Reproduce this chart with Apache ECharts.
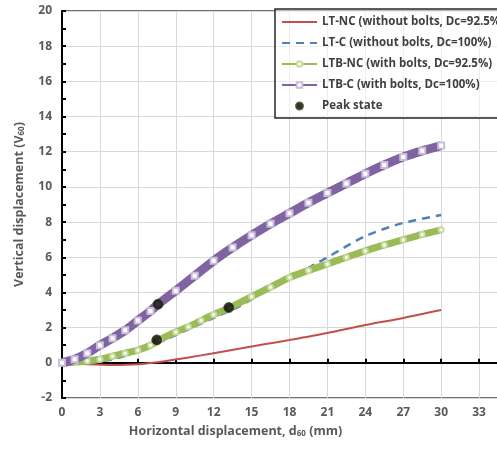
<!DOCTYPE html>
<html>
<head>
<meta charset="utf-8">
<script src="https://cdn.jsdelivr.net/npm/echarts@6/dist/echarts.min.js"></script>
<style>
  html, body { margin: 0; padding: 0; background: #fff; }
  #chart { width: 497px; height: 450px; }
</style>
</head>
<body>
<div id="chart"></div>
<script>
// LT-NC (without bolts, Dc=92.5%)
const ltncX = [0, 2, 4, 6, 8, 10, 12, 14, 16, 18, 21, 24, 27, 30];
const ltncY = [0, -0.08, -0.12, -0.08, 0.08, 0.3, 0.55, 0.8, 1.05, 1.3, 1.7, 2.15, 2.55, 3.0];
// LT-C (without bolts, Dc=100%)
const ltcX = [0, 2, 4, 5, 6, 7, 8, 10, 12, 14, 16, 18, 19, 20, 21, 24, 27, 30];
const ltcY = [0, 0.02, 0.2, 0.4, 0.65, 0.95, 1.25, 1.9, 2.55, 3.2, 4.05, 4.8, 5.2, 5.6, 6.0, 7.2, 7.95, 8.4];
// LTB-NC (with bolts, Dc=92.5%)
const ltbncX = [0, 1, 2, 3, 4, 5, 6, 7, 7.7, 9, 10, 11, 12, 13.3, 15, 16.5, 18, 19.5, 21, 22.5, 24, 25.5, 27, 28.5, 30];
const ltbncY = [0, 0.03, 0.1, 0.2, 0.38, 0.55, 0.72, 1.0, 1.3, 1.75, 2.05, 2.4, 2.75, 3.14, 3.77, 4.3, 4.85, 5.25, 5.62, 6.0, 6.36, 6.7, 7.0, 7.3, 7.56];
// LTB-C (with bolts, Dc=100%)
const ltbcX = [0, 1, 2, 3, 4, 5, 6, 7, 7.6, 9, 10.5, 12, 13.5, 15, 16.5, 18, 19.5, 21, 22.5, 24, 25.5, 27, 28.5, 30];
const ltbcY = [0, 0.2, 0.55, 1.0, 1.4, 1.85, 2.4, 2.95, 3.33, 4.1, 4.95, 5.8, 6.55, 7.25, 7.9, 8.5, 9.1, 9.65, 10.2, 10.75, 11.25, 11.7, 12.05, 12.35];
// Peak state
const peakX = [7.6, 7.5, 13.2];
const peakY = [3.33, 1.3, 3.14];

const xTicks = { min: 0, max: 36, interval: 3 };
const yTicks = { min: -2, max: 20, interval: 2 };

function pairs(xs, ys) {
  return xs.map((x, i) => [x, ys[i]]);
}

const font = "'Open Sans', 'Liberation Sans', sans-serif";
const labelColor = "#595959";

const nameRich = {
  n: { color: labelColor, fontSize: 12.5, fontWeight: "bold", fontFamily: font },
  s: { color: labelColor, fontSize: 8, fontWeight: "bold", fontFamily: font, padding: [6, 0, 0, 0] },
};

const myChart = echarts.init(document.getElementById("chart"));
myChart.setOption({
  animation: false,
  textStyle: { fontFamily: font },
  grid: {
    left: 62,
    top: 11,
    right: -20,
    bottom: 52,
    outerBoundsMode: "none",
    show: true,
    borderColor: "#404040",
    borderWidth: 1.5,
  },
  legend: {
    orient: "vertical",
    left: 275,
    top: 9,
    padding: [6, 40, 5, 6],
    itemGap: 7,
    itemWidth: 35,
    itemHeight: 7,
    borderColor: "#262626",
    borderWidth: 1.5,
    backgroundColor: "rgba(255,255,255,0.55)",
    lineStyle: { width: 2 },
    textStyle: {
      color: "#404040",
      fontSize: 11.5,
      fontWeight: "bold",
      fontFamily: font,
      lineHeight: 14,
    },
    data: [
      { name: "LT-NC (without bolts, Dc=92.5%)", itemStyle: { opacity: 0 } },
      { name: "LT-C (without bolts, Dc=100%)", itemStyle: { opacity: 0 } },
      "LTB-NC (with bolts, Dc=92.5%)",
      "LTB-C (with bolts, Dc=100%)",
      { name: "Peak state", itemStyle: { color: "#000" } },
    ],
  },
  xAxis: {
    type: "value",
    min: xTicks.min,
    max: xTicks.max,
    interval: xTicks.interval,
    name: "{n|Horizontal displacement, d}{s|60}{n| (mm)}",
    nameLocation: "middle",
    nameGap: 26,
    nameTextStyle: {
      color: labelColor,
      fontWeight: "bold",
      fontSize: 12.5,
      padding: [0, 108, 0, 0],
      rich: nameRich,
    },
    axisLine: { lineStyle: { color: "#000", width: 2 } },
    axisTick: { inside: true, length: 4, lineStyle: { color: "#000", width: 2 } },
    axisLabel: { color: labelColor, fontSize: 12, fontWeight: "bold", margin: 9 },
    splitLine: { lineStyle: { color: "#d9d9d9", width: 1 } },
  },
  yAxis: {
    type: "value",
    min: yTicks.min,
    max: yTicks.max,
    interval: yTicks.interval,
    name: "{n|Vertical displacement (V}{s|60}{n|)}",
    nameLocation: "middle",
    nameGap: 36,
    nameTextStyle: {
      color: labelColor,
      fontWeight: "bold",
      fontSize: 12.5,
      rich: nameRich,
    },
    axisLine: { lineStyle: { color: "#000", width: 2 } },
    axisTick: { inside: true, length: 4, lineStyle: { color: "#000", width: 2 } },
    minorTick: { show: true, splitNumber: 2, length: 4, lineStyle: { color: "#000", width: 2 } },
    axisLabel: { color: labelColor, fontSize: 12, fontWeight: "bold", margin: 10 },
    splitLine: { lineStyle: { color: "#d9d9d9", width: 1 } },
  },
  series: [
    {
      name: "LT-NC (without bolts, Dc=92.5%)",
      type: "line",
      data: pairs(ltncX, ltncY),
      symbol: "none",
      smooth: 0.3,
      color: "#c0504d",
      lineStyle: { color: "#c0504d", width: 2 },
      z: 2,
    },
    {
      name: "LT-C (without bolts, Dc=100%)",
      type: "line",
      data: pairs(ltcX, ltcY),
      symbol: "none",
      smooth: 0.3,
      color: "#4f81bd",
      lineStyle: { color: "#4f81bd", width: 2.5, type: [8, 6] },
      z: 3,
    },
    {
      name: "LTB-NC (with bolts, Dc=92.5%)",
      type: "line",
      data: pairs(ltbncX, ltbncY),
      symbol: "emptyCircle",
      symbolSize: 5,
      smooth: 0.3,
      color: "#9bbb59",
      itemStyle: { color: "#c6dca0", borderColor: "#9bbb59", borderWidth: 1.5 },
      lineStyle: { color: "#9bbb59", width: 7 },
      z: 4,
    },
    {
      name: "LTB-C (with bolts, Dc=100%)",
      type: "line",
      data: pairs(ltbcX, ltbcY),
      symbol: "emptyRect",
      symbolSize: 6,
      smooth: 0.3,
      color: "#8064a2",
      itemStyle: { color: "#c9bddb", borderColor: "#8064a2", borderWidth: 1.5 },
      lineStyle: { color: "#8064a2", width: 9 },
      z: 5,
    },
    {
      name: "Peak state",
      type: "scatter",
      data: pairs(peakX, peakY),
      symbol: "circle",
      symbolSize: 10,
      itemStyle: { color: "#000", borderColor: "#3a4a20", borderWidth: 1 },
      z: 6,
    },
  ],
});
</script>
</body>
</html>
